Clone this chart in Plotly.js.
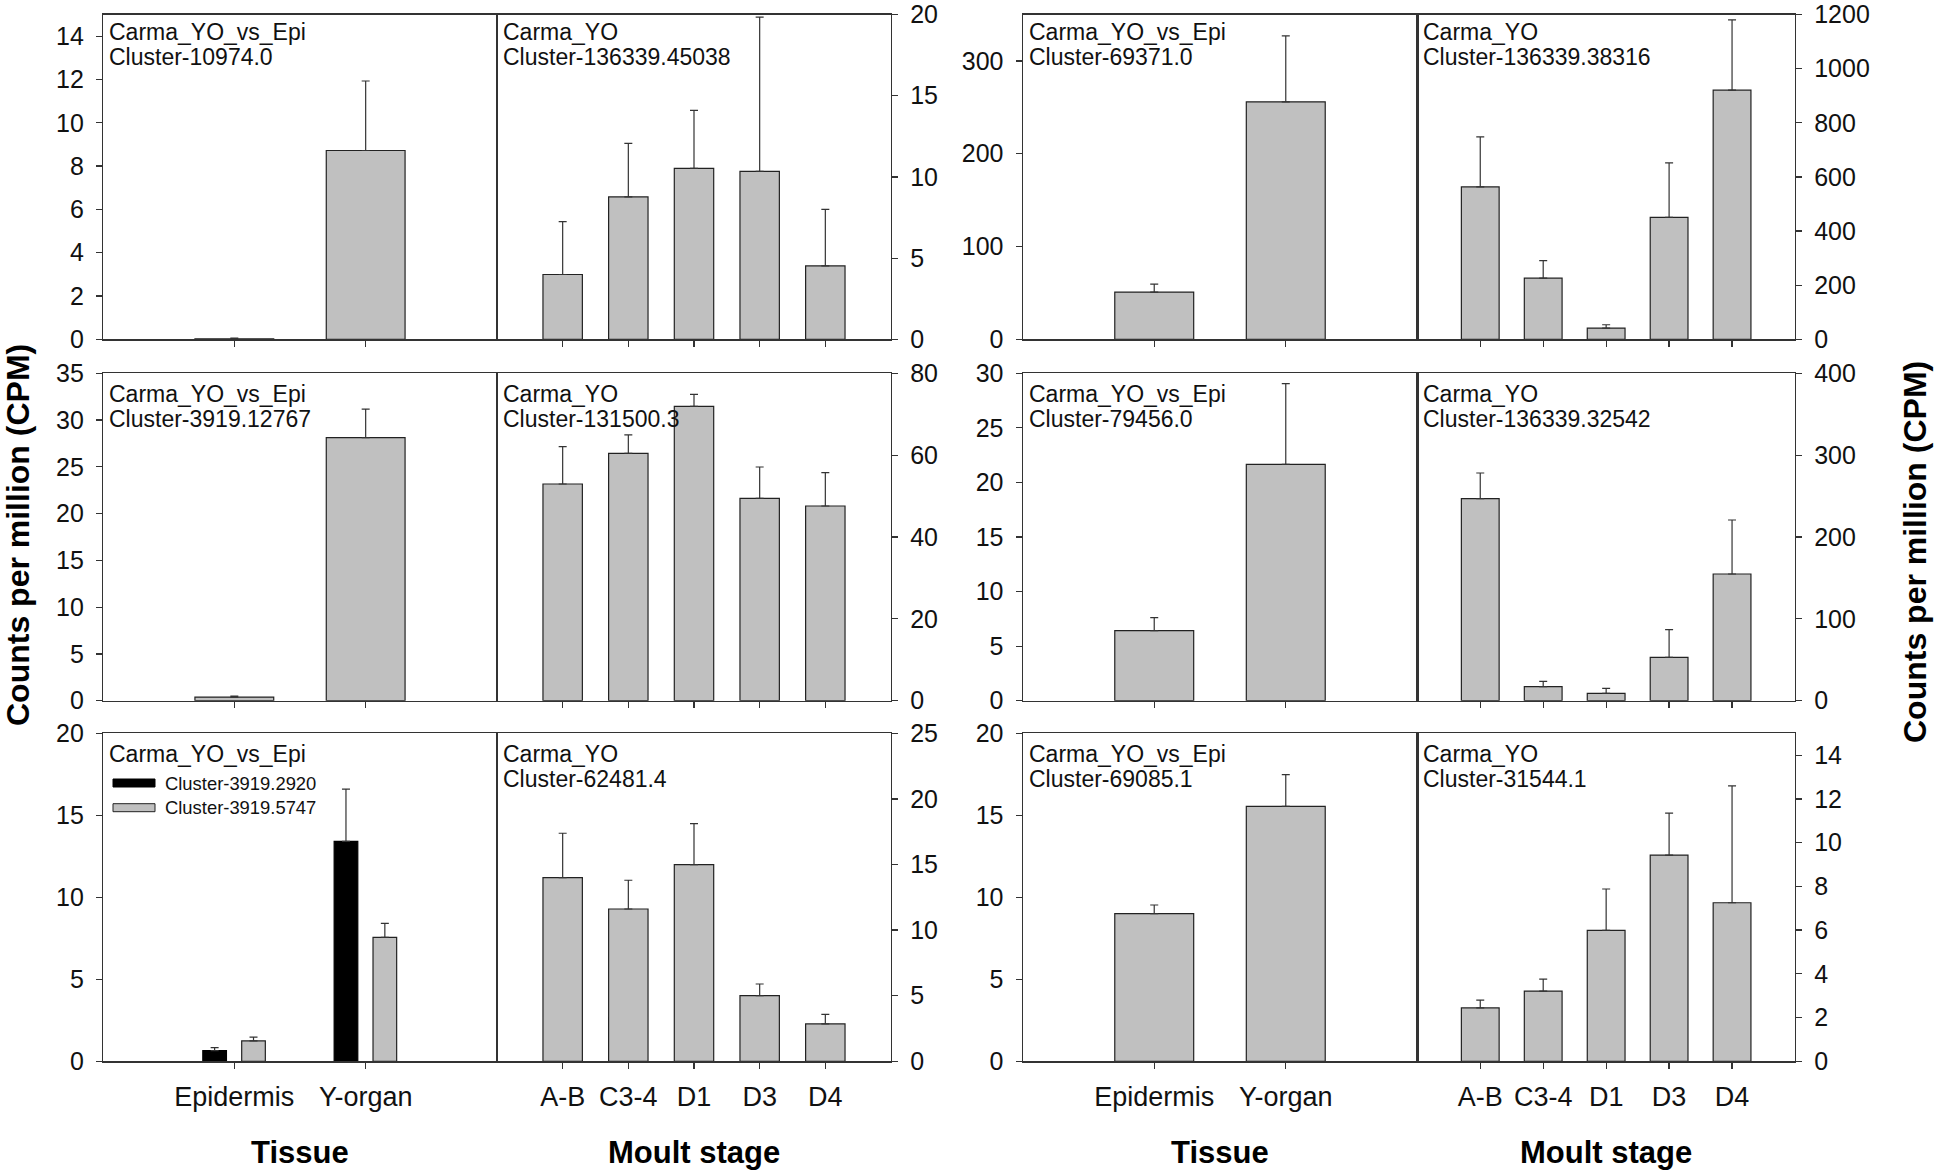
<!DOCTYPE html>
<html><head><meta charset="utf-8">
<script src="https://cdn.plot.ly/plotly-3.0.1.min.js"></script>
<style>html,body{margin:0;padding:0;background:#fff;} #chart{width:1946px;height:1171px;}</style>
</head><body><div id="chart"></div>
<script>
// ---------------- DATA ----------------
const tissues = ["Epidermis", "Y-organ"];
const stages = ["A-B", "C3-4", "D1", "D3", "D4"];
const tissueGroup = "Carma_YO_vs_Epi";
const stageGroup = "Carma_YO";

// Row 1
const p1Name = "Cluster-10974.0";
const p1Mean = [0.02, 8.72];
const p1Err  = [0.03, 3.21];

const p2Name = "Cluster-136339.45038";
const p2Mean = [3.99, 8.77, 10.52, 10.34, 4.52];
const p2Err  = [3.25, 3.30, 3.58, 9.50, 3.48];

const p3Name = "Cluster-69371.0";
const p3Mean = [50.9, 255.9];
const p3Err  = [8.5, 71.1];

const p4Name = "Cluster-136339.38316";
const p4Mean = [562.8, 225.8, 41.5, 450.4, 920.4];
const p4Err  = [185.2, 64.7, 12.2, 201.5, 260.0];

// Row 2
const p5Name = "Cluster-3919.12767";
const p5Mean = [0.39, 28.12];
const p5Err  = [0.11, 3.06];

const p6Name = "Cluster-131500.3";
const p6Mean = [52.95, 60.45, 71.93, 49.45, 47.58];
const p6Err  = [9.13, 4.48, 2.94, 7.65, 8.14];

const p7Name = "Cluster-79456.0";
const p7Mean = [6.42, 21.66];
const p7Err  = [1.19, 7.40];

const p8Name = "Cluster-136339.32542";
const p8Mean = [246.8, 17.1, 9.0, 53.0, 154.8];
const p8Err  = [31.4, 6.5, 6.1, 33.8, 66.0];

// Row 3
const p9NameA = "Cluster-3919.2920";
const p9MeanA = [0.65, 13.41];
const p9ErrA  = [0.18, 3.18];
const p9NameB = "Cluster-3919.5747";
const p9MeanB = [1.24, 7.56];
const p9ErrB  = [0.24, 0.85];

const p10Name = "Cluster-62481.4";
const p10Mean = [14.0, 11.61, 14.99, 5.0, 2.85];
const p10Err  = [3.38, 2.19, 3.12, 0.89, 0.73];

const p11Name = "Cluster-69085.1";
const p11Mean = [9.0, 15.55];
const p11Err  = [0.53, 1.93];

const p12Name = "Cluster-31544.1";
const p12Mean = [2.44, 3.21, 5.99, 9.43, 7.25];
const p12Err  = [0.36, 0.55, 1.89, 1.92, 5.35];

// y-axis ranges and tick steps per panel
const yRanges = [[0,15],[0,20],[0,350],[0,1200],[0,35],[0,80],[0,30],[0,400],[0,20],[0,25],[0,20],[0,15]];
const yDticks = [2,5,100,200,5,20,5,100,5,5,5,2];

const xTitles = ["Tissue", "Moult stage", "Tissue", "Moult stage"];
const yTitle = "Counts per million (CPM)";

// ---------------- LAYOUT GEOMETRY ----------------
const W = 1946, H = 1171;
const colPx = [[103,497],[497,891],[1022.7,1417.3],[1417.3,1795]];
const rowPx = [[14.5,339.3],[373.3,700.7],[733.3,1061.3]];
const FONT = "Liberation Sans, Arial, Helvetica, sans-serif";
const INK = "#111";
const LINE = "#333";
const GREY = "#c0c0c0";

const singlePanels = [
  {name:p1Name, mean:p1Mean, err:p1Err}, {name:p2Name, mean:p2Mean, err:p2Err},
  {name:p3Name, mean:p3Mean, err:p3Err}, {name:p4Name, mean:p4Mean, err:p4Err},
  {name:p5Name, mean:p5Mean, err:p5Err}, {name:p6Name, mean:p6Mean, err:p6Err},
  {name:p7Name, mean:p7Mean, err:p7Err}, {name:p8Name, mean:p8Mean, err:p8Err},
  null,
  {name:p10Name, mean:p10Mean, err:p10Err}, {name:p11Name, mean:p11Mean, err:p11Err},
  {name:p12Name, mean:p12Mean, err:p12Err}
];

const layout = {
  width: W, height: H, autosize: false,
  margin: {l:0, r:0, t:0, b:0},
  paper_bgcolor: "#fff", plot_bgcolor: "rgba(0,0,0,0)",
  barmode: "overlay",
  showlegend: false,
  font: {family: FONT, color: INK},
  annotations: [], shapes: []
};
const data = [];

function errBar(err) {
  return {type:"data", symmetric:false, array:err, arrayminus:err.map(() => 0),
          color: LINE, thickness: 1.2, width: 4, visible: true};
}

for (let i = 0; i < 12; i++) {
  const r = Math.floor(i / 4), c = i % 4;
  const isTissue = (c % 2 === 0);
  const n = i + 1;
  const xs = n === 1 ? "x" : "x" + n, ys = n === 1 ? "y" : "y" + n;
  const xk = n === 1 ? "xaxis" : "xaxis" + n, yk = n === 1 ? "yaxis" : "yaxis" + n;
  const cats = isTissue ? tissues : stages;
  const xd = [colPx[c][0] / W, colPx[c][1] / W];
  const yd = [1 - rowPx[r][1] / H, 1 - rowPx[r][0] / H];
  const topShift = r === 0 ? -2.5 : 0; // keep text at the same absolute spot as reference

  layout[xk] = {
    domain: xd, anchor: ys, type: "category", categoryorder: "array", categoryarray: cats,
    range: isTissue ? [-1, 2] : [-1, 5],
    showline: true, mirror: true, linecolor: LINE, linewidth: 1.2,
    ticks: "outside", ticklen: 6, tickwidth: 1.2, tickcolor: LINE,
    showticklabels: r === 2, tickfont: {size: 27, family: FONT, color: INK},
    ticklabelstandoff: 5, ticklabeloverflow: "allow",
    showgrid: false, zeroline: false, fixedrange: true
  };
  layout[yk] = {
    domain: yd, anchor: xs, side: isTissue ? "left" : "right",
    range: yRanges[i], tick0: 0, dtick: yDticks[i],
    showline: true, mirror: true, linecolor: LINE, linewidth: 1.2,
    ticks: "outside", ticklen: 6, tickwidth: 1.2, tickcolor: LINE,
    tickfont: {size: 25, family: FONT, color: INK},
    ticklabelstandoff: 7, ticklabeloverflow: "allow",
    showgrid: false, zeroline: false, fixedrange: true
  };

  // group label + cluster name
  const ann = (text, dy, size, dx) => ({
    xref: xs + " domain", yref: ys + " domain", x: 0, y: 1,
    xanchor: "left", yanchor: "middle", xshift: dx, yshift: -dy,
    text: text, showarrow: false, font: {size: size, family: FONT, color: INK}
  });
  layout.annotations.push(ann(isTissue ? tissueGroup : stageGroup, 20.5 + topShift, 23, 4));

  const p = singlePanels[i];
  if (p) {
    layout.annotations.push(ann(p.name, 45.5 + topShift, 23, 4));
    data.push({
      type: "bar", x: cats, y: p.mean, width: 0.6,
      marker: {color: GREY, line: {color: "#222", width: 1.2}},
      error_y: errBar(p.err), xaxis: xs, yaxis: ys, hoverinfo: "skip"
    });
  } else {
    // two-series panel
    data.push({
      type: "bar", name: p9NameA, x: cats, y: p9MeanA, width: 0.18, offset: -0.24,
      marker: {color: "#000", line: {color: "#000", width: 1.2}},
      error_y: errBar(p9ErrA), xaxis: xs, yaxis: ys, hoverinfo: "skip"
    });
    data.push({
      type: "bar", name: p9NameB, x: cats, y: p9MeanB, width: 0.18, offset: 0.056,
      marker: {color: GREY, line: {color: "#222", width: 1.2}},
      error_y: errBar(p9ErrB), xaxis: xs, yaxis: ys, hoverinfo: "skip"
    });
    const pw = colPx[c][1] - colPx[c][0], ph = rowPx[r][1] - rowPx[r][0];
    const legendRows = [[p9NameA, "#000", "#000", 49.7], [p9NameB, GREY, "#222", 74.4]];
    legendRows.forEach(([nm, fill, lc, dy]) => {
      layout.shapes.push({
        type: "rect", xref: xs + " domain", yref: ys + " domain",
        x0: 10 / pw, x1: 52 / pw, y0: 1 - (dy + 4) / ph, y1: 1 - (dy - 4) / ph,
        fillcolor: fill, line: {color: lc, width: 1}
      });
      layout.annotations.push({
        xref: xs + " domain", yref: ys + " domain", x: 60 / pw, y: 1 - dy / ph,
        xanchor: "left", yanchor: "middle", text: nm, showarrow: false,
        font: {size: 18.4, family: FONT, color: INK}
      });
    });
  }

  // bottom x titles
  if (r === 2) {
    layout.annotations.push({
      xref: xs + " domain", yref: "paper", x: 0.5, y: 1 - 1152 / H,
      xanchor: "center", yanchor: "middle", text: "<b>" + xTitles[c] + "</b>",
      showarrow: false, font: {size: 31, family: FONT, color: "#000"}
    });
  }
}

// side titles
layout.annotations.push({
  xref: "paper", yref: "paper", x: 18 / W, y: 1 - 535 / H, xanchor: "center", yanchor: "middle",
  textangle: -90, text: "<b>" + yTitle + "</b>", showarrow: false,
  font: {size: 32, family: FONT, color: "#000"}
});
layout.annotations.push({
  xref: "paper", yref: "paper", x: 1915 / W, y: 1 - 552 / H, xanchor: "center", yanchor: "middle",
  textangle: -90, text: "<b>" + yTitle + "</b>", showarrow: false,
  font: {size: 32, family: FONT, color: "#000"}
});

Plotly.newPlot("chart", data, layout, {displayModeBar: false, staticPlot: true});
</script>
</body></html>
